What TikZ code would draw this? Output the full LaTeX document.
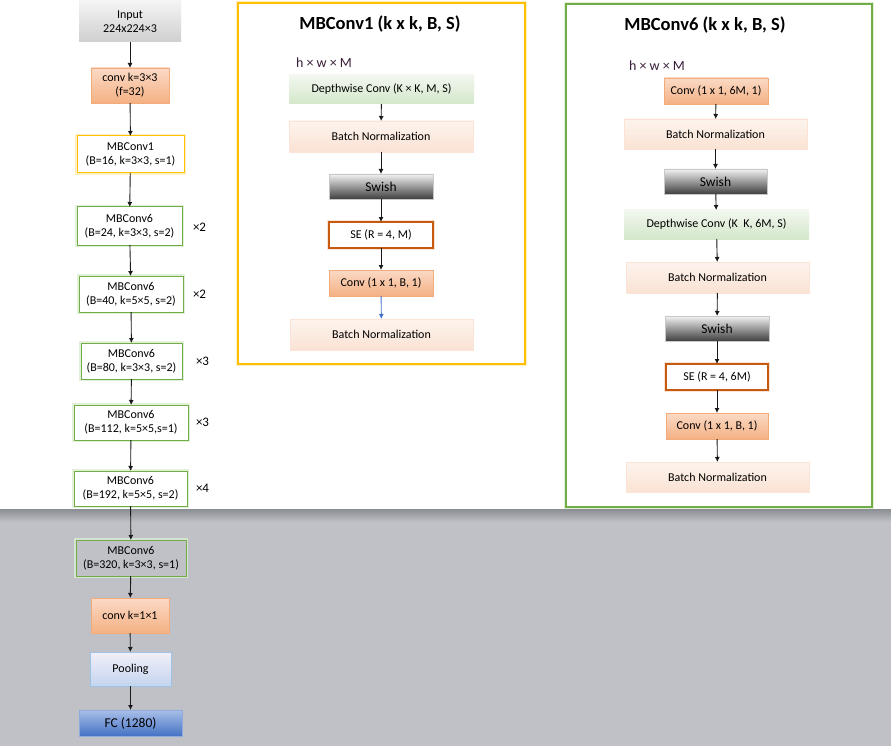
\documentclass[tikz,border=0pt]{standalone}
\usepackage{fontspec}
\setmainfont{Carlito}
\usetikzlibrary{arrows.meta}
\definecolor{bgGray}{HTML}{BFC1C6}
\definecolor{bgShade}{HTML}{8A8D92}
\definecolor{inTop}{HTML}{F4F4F4}
\definecolor{inBot}{HTML}{CFCFCF}
\definecolor{orTop}{HTML}{FBDAC6}
\definecolor{orBot}{HTML}{F4B183}
\definecolor{orLine}{HTML}{F2AC7C}
\definecolor{peTop}{HTML}{FDF4EE}
\definecolor{peBot}{HTML}{FAE2D3}
\definecolor{peLine}{HTML}{FBE3D5}
\definecolor{grTop}{HTML}{F2F7EF}
\definecolor{grBot}{HTML}{D4E7CA}
\definecolor{swTop}{HTML}{F2F2F2}
\definecolor{swBot}{HTML}{3F3F3F}
\definecolor{swLine}{HTML}{C8C8C8}
\definecolor{seLine}{HTML}{C55A11}
\definecolor{mbYel}{HTML}{FFC000}
\definecolor{mbYelGlow}{HTML}{FFF0C4}
\definecolor{mbGrn}{HTML}{70AD47}
\definecolor{mbGrnGlow}{HTML}{E2F0D9}
\definecolor{plTop}{HTML}{F2EFF9}
\definecolor{plBot}{HTML}{C3D4EE}
\definecolor{plLine}{HTML}{9DC3E6}
\definecolor{fcTop}{HTML}{A9BFE8}
\definecolor{fcBot}{HTML}{4472C4}
\definecolor{fcLine}{HTML}{8FAADC}
\definecolor{hwText}{HTML}{3A1F3A}
\begin{document}
\begin{tikzpicture}[x=1pt,y=-1pt,
  every node/.style={inner sep=0pt,outer sep=0pt,align=center,font=\fontsize{12}{14}\selectfont},
  sz/.style 2 args={minimum width=#1pt,minimum height=#2pt},
  inbox/.style={top color=inTop,bottom color=inBot},
  orng/.style={top color=orTop,bottom color=orBot,draw=orLine,line width=0.8pt},
  peach/.style={top color=peTop,bottom color=peBot,draw=peLine,line width=0.8pt},
  dwc/.style={top color=grTop,bottom color=grBot},
  swish/.style={top color=swTop,bottom color=swBot,draw=swLine,line width=0.8pt,font=\fontsize{13.5}{15}\selectfont},
  sebox/.style={fill=white,draw=seLine,line width=1.2pt,preaction={draw=peLine,line width=3.5pt}},
  mbone/.style={fill=white,draw=mbYel,line width=1pt,preaction={draw=mbYelGlow,line width=4pt}},
  mbsix/.style={fill=white,draw=mbGrn,line width=1pt,preaction={draw=mbGrnGlow,line width=4pt}},
  pool/.style={top color=plTop,bottom color=plBot,draw=plLine,line width=0.8pt},
  fcbox/.style={top color=fcTop,bottom color=fcBot,draw=fcLine,line width=0.8pt,font=\fontsize{13.5}{15}\selectfont},
  rep/.style={anchor=west,font=\fontsize{13}{15}\selectfont},
  ttl/.style={font=\bfseries\fontsize{18.5}{22}\selectfont},
  hw/.style={anchor=west,text=hwText,font=\fontsize{14}{16}\selectfont},
  flow/.style={-{Latex[length=5pt,width=5pt]},line width=0.9pt,black!90}
]
\useasboundingbox (0,0) rectangle (891,746);
% background
\fill[white] (0,0) rectangle (891,509);
\fill[bgGray] (0,509) rectangle (891,746);
\shade[top color=bgShade,bottom color=bgGray] (0,509) rectangle (891,522);

% main column
\node[inbox,sz={102}{41}] (in) at (130,21.5) {Input\\224x224×3};
\node[orng,sz={78}{35}] (stem) at (130,85.5) {conv k=3×3\\(f=32)};
\node[mbone,sz={107}{37}] (b1) at (130.5,154.5) {MBConv1\\(B=16, k=3×3, s=1)};
\node[mbsix,sz={105}{38}] (b2) at (129.5,226) {MBConv6\\(B=24, k=3×3, s=2)};
\node[mbsix,sz={104}{36}] (b3) at (131,294) {MBConv6\\(B=40, k=5×5, s=2)};
\node[mbsix,sz={101}{36}] (b4) at (131.5,361) {MBConv6\\(B=80, k=3×3, s=2)};
\node[mbsix,sz={114}{35}] (b5) at (131,422.5) {MBConv6\\(B=112, k=5×5,s=1)};
\node[mbsix,sz={113}{35}] (b6) at (130.5,488.5) {MBConv6\\(B=192, k=5×5, s=2)};
\node[mbsix,fill=bgGray,preaction={draw=mbGrnGlow!70!bgGray,line width=4pt},sz={110}{36}] (b7) at (131,558) {MBConv6\\(B=320, k=3×3, s=1)};
\node[orng,sz={78}{35}] (head) at (130,615.5) {conv k=1×1};
\node[pool,sz={81}{34}] (pl) at (130.5,669) {Pooling};
\node[fcbox,sz={103}{26}] (fc) at (130.5,723) {FC (1280)};

\node[rep] (r2) at (193,227) {×2};
\node[rep] (r3) at (193,294) {×2};
\node[rep] (r4) at (196,361) {×3};
\node[rep] (r5) at (196,422) {×3};
\node[rep] (r6) at (196,488) {×4};

\draw[flow] (in) -- (stem);
\draw[flow] (stem) -- (b1);
\draw[flow] (b1) -- (b2);
\draw[flow] (b2) -- (b3);
\draw[flow] (b3) -- (b4);
\draw[flow] (b4) -- (b5);
\draw[flow] (b5) -- (b6);
\draw[flow] (b6) -- (b7);
\draw[flow] (b7) -- (head);
\draw[flow] (head) -- (pl);
\draw[flow] (pl) -- (fc);

% MBConv1 block
\draw[mbone,line width=1.4pt] (238,3) rectangle (525,364);
\node[ttl] (t1) at (380,24) {MBConv1 (k x k, B, S)};
\node[hw] (hw1) at (296,63) {h × w × M};
\node[dwc,sz={185}{29}] (p1a) at (381.5,89.5) {Depthwise Conv (K × K, M, S)};
\node[peach,sz={184}{31}] (p1b) at (381,136.5) {Batch Normalization};
\node[swish,sz={104}{25}] (p1c) at (381,186.5) {Swish};
\node[sebox,sz={104}{26}] (p1d) at (381,235) {SE (R = 4, M)};
\node[orng,sz={104}{26}] (p1e) at (381,283) {Conv (1 x 1, B, 1)};
\node[peach,sz={183}{31}] (p1f) at (381.5,334.5) {Batch Normalization};
\draw[flow] (p1a) -- (p1b);
\draw[flow] (p1b) -- (p1c);
\draw[flow] (p1c) -- (p1d);
\draw[flow] (p1d) -- (p1e);
\draw[flow,fcBot] (p1e) -- (p1f);

% MBConv6 block
\draw[mbsix,line width=1.8pt] (566,4) rectangle (872,507);
\node[ttl] (t6) at (705,25) {MBConv6 (k x k, B, S)};
\node[hw] (hw6) at (629,66) {h × w × M};
\node[orng,sz={104}{26}] (q1) at (716,91) {Conv (1 x 1, 6M, 1)};
\node[peach,sz={183}{30}] (q2) at (715.5,134) {Batch Normalization};
\node[swish,sz={103}{25}] (q3) at (715.5,181.5) {Swish};
\node[dwc,sz={185}{29}] (q4) at (716.5,224.5) {Depthwise Conv (K\ \ K, 6M, S)};
\node[peach,sz={183}{31}] (q5) at (717.5,277.5) {Batch Normalization};
\node[swish,sz={104}{25}] (q6) at (717,328.5) {Swish};
\node[sebox,sz={102}{26}] (q7) at (717,377) {SE (R = 4, 6M)};
\node[orng,sz={102}{26}] (q8) at (717,426) {Conv (1 x 1, B, 1)};
\node[peach,sz={183}{30}] (q9) at (717.5,477) {Batch Normalization};
\draw[flow] (q1) -- (q2);
\draw[flow] (q2) -- (q3);
\draw[flow] (q3) -- (q4);
\draw[flow] (q4) -- (q5);
\draw[flow] (q5) -- (q6);
\draw[flow] (q6) -- (q7);
\draw[flow] (q7) -- (q8);
\draw[flow] (q8) -- (q9);
\end{tikzpicture}
\end{document}
